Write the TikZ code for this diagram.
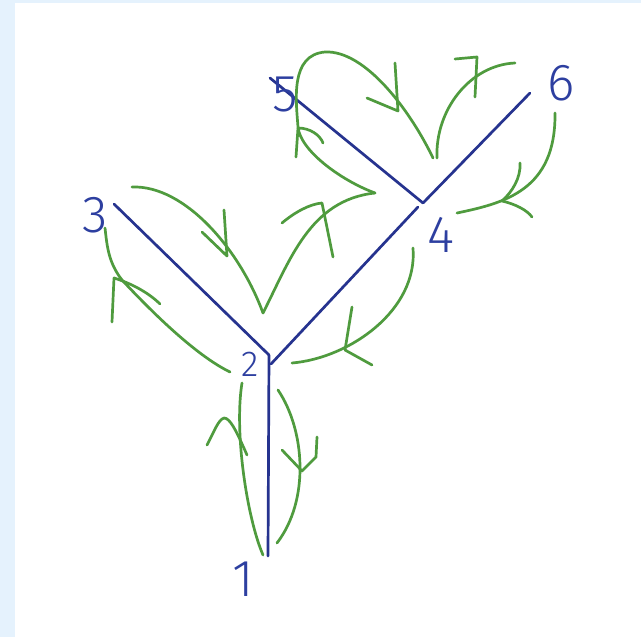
\documentclass[tikz,border=0pt]{standalone}
\usepackage{fontspec}
\newfontfamily\lab{Fira Sans Light}
\definecolor{treeblue}{HTML}{26338F}
\definecolor{labblue}{HTML}{2D3FA0}
\definecolor{tourgreen}{HTML}{4F9B3E}
\definecolor{bgblue}{HTML}{E5F2FD}
\begin{document}
\begin{tikzpicture}[x=1pt,y=-1pt,
  tree/.style={draw=treeblue,line width=2.7pt,line cap=round},
  tour/.style={draw=tourgreen,line width=2.7pt,line cap=round,line join=round},
  lbl/.style={text=labblue,inner sep=0pt,font=\lab\fontsize{52}{52}\selectfont},
  lblsmall/.style={lbl,font=\lab\fontsize{36}{36}\selectfont}]
\useasboundingbox (0,0) rectangle (641,637);
\fill[bgblue] (0,0) rectangle (641,637);
\fill[white] (15,3) rectangle (641,637);

% tree vertices
\coordinate (v1) at (268,556);
\coordinate (v2) at (269,355);
\coordinate (v2b) at (271,364);
\coordinate (v3) at (114,204);
\coordinate (v4) at (423,203);
\coordinate (v4b) at (418,207);
\coordinate (v5) at (270,78);
\coordinate (v6) at (530,93);

\draw[tree] (v1) -- (v2);
\draw[tree] (v2) -- (v3);
\draw[tree] (v2b) -- (v4b);
\draw[tree] (v5) -- (v4);
\draw[tree] (v4) -- (v6);

% labels
\node[lbl] (n1) at (243,579) {1};
\node[lblsmall] (n2) at (250,364) {2};
\node[lbl] (n3) at (95,215) {3};
\node[lbl] (n4) at (441,235) {4};
\node[lbl] (n5) at (285,94) {5};
\node[lbl] (n6) at (561,83) {6};

% tour: 1 -> 2 (left of edge)
\draw[tour] (263,555) .. controls (247,518) and (234,432) .. (242,383);
\draw[tour] (207,445) .. controls (214,432) and (218,420) .. (224,418) .. controls (230,418) and (236,430) .. (247,455);
% tour: 2 -> 1 (right of edge)
\draw[tour] (278,390) .. controls (305,430) and (310,500) .. (277,543);
\draw[tour] (282,450) -- (302,471) -- (316,457) -- (317,437);
% tour: 2 -> 3
\draw[tour] (230,372) .. controls (195,355) and (150,310) .. (122,280) .. controls (108,262) and (107,245) .. (105,228);
\draw[tour] (112,322) -- (114,278) .. controls (130,283) and (148,292) .. (160,304);
% tour: 3 -> 2
\draw[tour] (132,187) .. controls (185,185) and (240,250) .. (263,313);
\draw[tour] (202,232) -- (227,256) -- (224,210);
% tour: 2 -> 4
\draw[tour] (263,313) .. controls (290,260) and (310,200) .. (375,193);
\draw[tour] (282,223) .. controls (295,212) and (310,204) .. (322,203) -- (333,257);
% tour: 4 -> 5 -> 4
\draw[tour] (375,193) .. controls (340,180) and (300,150) .. (298,127)
  .. controls (296,100) and (290,55) .. (325,52)
  .. controls (365,50) and (410,110) .. (433,158);
\draw[tour] (296,157) -- (298,128) .. controls (310,128) and (320,135) .. (323,143);
\draw[tour] (367,98) -- (398,111) -- (395,63);
% tour: 4 -> 6
\draw[tour] (437,158) .. controls (435,110) and (470,65) .. (515,63);
\draw[tour] (455,59) -- (477,57) -- (475,97);
% tour: 6 -> 4
\draw[tour] (555,113) .. controls (556,190) and (505,203) .. (457,213);
\draw[tour] (520,163) .. controls (521,178) and (512,192) .. (502,201) .. controls (515,204) and (527,210) .. (532,217);
% tour: 4 -> 2
\draw[tour] (413,248) .. controls (418,310) and (350,358) .. (292,363);
\draw[tour] (352,307) -- (345,350) -- (372,365);
\end{tikzpicture}
\end{document}
